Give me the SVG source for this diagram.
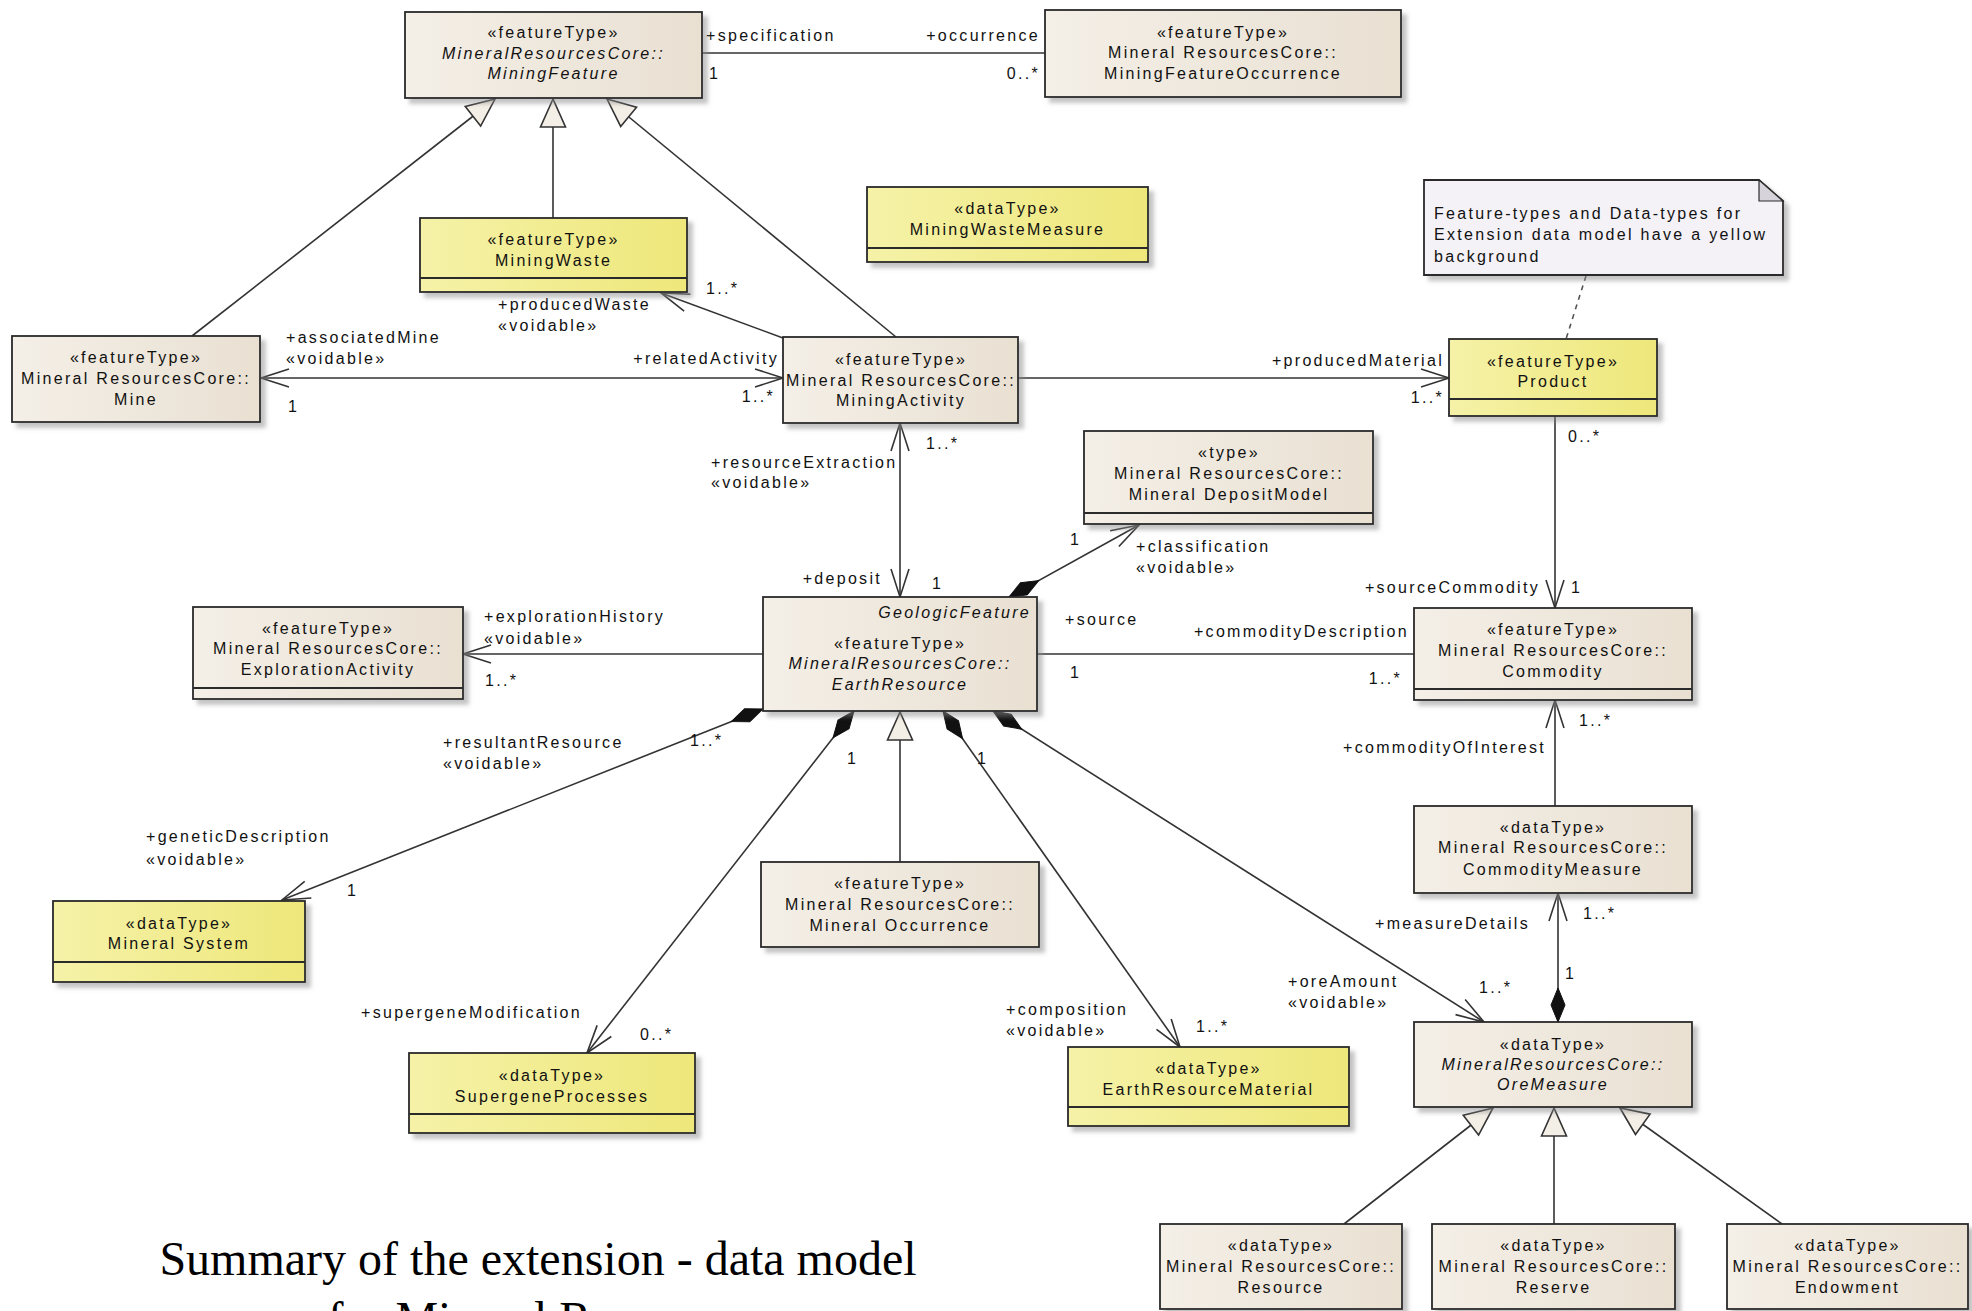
<svg xmlns="http://www.w3.org/2000/svg" width="1972" height="1311" viewBox="0 0 1972 1311">
<style>
.box{stroke:#2b2b2b;stroke-width:1.8}
.b{fill:url(#gB)}
.y{fill:url(#gY)}
.sep{stroke:#2b2b2b;stroke-width:1.8}
.t{font-family:"Liberation Sans",Arial,sans-serif;font-size:16px;letter-spacing:2.3px;fill:#111}
.c{text-anchor:middle}
.e{text-anchor:end}
.i{font-style:italic}
.ln{stroke:#333;stroke-width:1.6;fill:none}
.arr{marker-end:url(#arr)}
.arr2{marker-start:url(#arr);marker-end:url(#arr)}
.gen{marker-end:url(#gen)}
.dia{marker-start:url(#dia)}
.title{font-family:"Liberation Serif","Times New Roman",serif;font-size:48px;fill:#000;text-anchor:middle}
</style>
<defs>
<linearGradient id="gB" x1="0" y1="0" x2="1" y2="0"><stop offset="0" stop-color="#f4efe7"/><stop offset="1" stop-color="#e9e0d2"/></linearGradient>
<linearGradient id="gY" x1="0" y1="0" x2="1" y2="0"><stop offset="0" stop-color="#f5f2a8"/><stop offset="1" stop-color="#eee77a"/></linearGradient>
<filter id="sh" x="-5%" y="-5%" width="115%" height="125%"><feDropShadow dx="5" dy="5" stdDeviation="2" flood-color="#888" flood-opacity="0.5"/></filter>
<marker id="arr" viewBox="-32 -14 36 28" refX="0" refY="0" markerWidth="36" markerHeight="28" orient="auto-start-reverse" markerUnits="userSpaceOnUse"><path d="M-28,-9 L0,0 L-28,9" fill="none" stroke="#333" stroke-width="1.6"/></marker>
<marker id="gen" viewBox="-32 -16 36 32" refX="0" refY="0" markerWidth="36" markerHeight="32" orient="auto" markerUnits="userSpaceOnUse"><path d="M0,0 L-28,-12.5 L-28,12.5 Z" fill="#f4efe6" stroke="#333" stroke-width="1.6"/></marker>
<marker id="dia" viewBox="-3 -10 40 20" refX="0" refY="0" markerWidth="40" markerHeight="20" orient="auto" markerUnits="userSpaceOnUse"><path d="M0,0 L17,-7 L34,0 L17,7 Z" fill="#111" stroke="#111" stroke-width="1"/></marker>
</defs>
<rect width="1972" height="1311" fill="#fff"/>

<g id="connectors">
  <line class="ln" x1="702" y1="53" x2="1045" y2="53"/>
  <line class="ln gen" x1="192" y1="336" x2="495" y2="99"/>
  <line class="ln gen" x1="553" y1="218" x2="553" y2="99"/>
  <line class="ln gen" x1="896" y1="337" x2="607" y2="99"/>
  <line class="ln arr2" x1="261" y1="378" x2="783" y2="378"/>
  <line class="ln arr" x1="783" y1="338" x2="661" y2="293"/>
  <line class="ln arr" x1="1018" y1="378" x2="1449" y2="378"/>
  <line x1="1586" y1="276" x2="1566" y2="339" stroke="#555" stroke-width="1.6" stroke-dasharray="5,5"/>
  <line class="ln arr" x1="1555" y1="416" x2="1555" y2="608"/>
  <line class="ln arr" x1="1555" y1="806" x2="1555" y2="700"/>
  <line class="ln dia arr" x1="1558" y1="1022" x2="1558" y2="893"/>
  <line class="ln arr2" x1="900" y1="423" x2="900" y2="597"/>
  <line class="ln dia arr" x1="1009" y1="597" x2="1139" y2="525"/>
  <line class="ln" x1="1037" y1="654" x2="1414" y2="654"/>
  <line class="ln arr" x1="763" y1="654" x2="463" y2="654"/>
  <line class="ln dia arr" x1="763" y1="709" x2="282" y2="900"/>
  <line class="ln dia arr" x1="854" y1="711" x2="587" y2="1053"/>
  <line class="ln gen" x1="900" y1="862" x2="900" y2="712"/>
  <line class="ln dia arr" x1="943" y1="711" x2="1180" y2="1047"/>
  <line class="ln dia arr" x1="993" y1="711" x2="1484" y2="1022"/>
  <line class="ln gen" x1="1344" y1="1224" x2="1493" y2="1108"/>
  <line class="ln gen" x1="1554" y1="1224" x2="1554" y2="1108"/>
  <line class="ln gen" x1="1782" y1="1224" x2="1620" y2="1108"/>

  <text class="t" x="706" y="40.5">+specification</text>
  <text class="t" x="709" y="78.5">1</text>
  <text class="t e" x="1040" y="40.5">+occurrence</text>
  <text class="t e" x="1040" y="78.5">0..*</text>

  <text class="t" x="286" y="342.5">+associatedMine</text>
  <text class="t" x="286" y="363.5">«voidable»</text>
  <text class="t" x="288" y="412">1</text>
  <text class="t e" x="779" y="363.5">+relatedActivity</text>
  <text class="t e" x="775" y="401.5">1..*</text>

  <text class="t" x="498" y="309.5">+producedWaste</text>
  <text class="t" x="498" y="330.5">«voidable»</text>
  <text class="t" x="706" y="293.5">1..*</text>

  <text class="t e" x="1444" y="365.5">+producedMaterial</text>
  <text class="t e" x="1444" y="402.5">1..*</text>

  <text class="t" x="1568" y="441.5">0..*</text>
  <text class="t e" x="1540" y="592.5">+sourceCommodity</text>
  <text class="t" x="1571" y="592.5">1</text>

  <text class="t" x="1579" y="725.5">1..*</text>
  <text class="t e" x="1546" y="752.5">+commodityOfInterest</text>

  <text class="t" x="1583" y="918.5">1..*</text>
  <text class="t e" x="1530" y="928.5">+measureDetails</text>
  <text class="t" x="1565" y="978.5">1</text>

  <text class="t" x="926" y="448.5">1..*</text>
  <text class="t" x="711" y="467.5">+resourceExtraction</text>
  <text class="t" x="711" y="487.5">«voidable»</text>
  <text class="t e" x="882" y="583.5">+deposit</text>
  <text class="t" x="932" y="588.5">1</text>

  <text class="t" x="1070" y="544.5">1</text>
  <text class="t" x="1136" y="551.5">+classification</text>
  <text class="t" x="1136" y="572.5">«voidable»</text>

  <text class="t" x="1065" y="624.5">+source</text>
  <text class="t" x="1070" y="677.5">1</text>
  <text class="t e" x="1409" y="636.5">+commodityDescription</text>
  <text class="t e" x="1402" y="683.5">1..*</text>

  <text class="t" x="484" y="621.5">+explorationHistory</text>
  <text class="t" x="484" y="643.5">«voidable»</text>
  <text class="t" x="485" y="685.5">1..*</text>

  <text class="t" x="690" y="745.5">1..*</text>
  <text class="t" x="443" y="747.5">+resultantResource</text>
  <text class="t" x="443" y="768.5">«voidable»</text>
  <text class="t" x="146" y="841.5">+geneticDescription</text>
  <text class="t" x="146" y="864.5">«voidable»</text>
  <text class="t" x="347" y="895.5">1</text>

  <text class="t" x="847" y="763.5">1</text>
  <text class="t" x="361" y="1017.5">+supergeneModification</text>
  <text class="t" x="640" y="1039.5">0..*</text>

  <text class="t" x="977" y="763.5">1</text>
  <text class="t" x="1006" y="1014.5">+composition</text>
  <text class="t" x="1006" y="1035.5">«voidable»</text>
  <text class="t" x="1196" y="1031.5">1..*</text>

  <text class="t" x="1288" y="986.5">+oreAmount</text>
  <text class="t" x="1288" y="1007.5">«voidable»</text>
  <text class="t" x="1479" y="992.5">1..*</text>
</g>

<g id="n-miningfeature">
  <rect class="box b" x="405" y="12" width="297" height="86" filter="url(#sh)"/>
  <text class="t c" x="553.5" y="38">«featureType»</text>
  <text class="t c i" x="553.5" y="59">MineralResourcesCore::</text>
  <text class="t c i" x="553.5" y="79">MiningFeature</text>
</g>
<g id="n-miningfeatureoccurrence">
  <rect class="box b" x="1045" y="10" width="356" height="87" filter="url(#sh)"/>
  <text class="t c" x="1223" y="37.5">«featureType»</text>
  <text class="t c" x="1223" y="58">Mineral ResourcesCore::</text>
  <text class="t c" x="1223" y="78.5">MiningFeatureOccurrence</text>
</g>
<g id="n-miningwaste">
  <rect class="box y" x="420" y="218" width="267" height="74" filter="url(#sh)"/>
  <line class="sep" x1="420" y1="278" x2="687" y2="278"/>
  <text class="t c" x="553.5" y="244.5">«featureType»</text>
  <text class="t c" x="553.5" y="265.5">MiningWaste</text>
</g>
<g id="n-miningwastemeasure">
  <rect class="box y" x="867" y="187" width="281" height="75" filter="url(#sh)"/>
  <line class="sep" x1="867" y1="248" x2="1148" y2="248"/>
  <text class="t c" x="1007.5" y="213.5">«dataType»</text>
  <text class="t c" x="1007.5" y="234.5">MiningWasteMeasure</text>
</g>
<g id="n-mine">
  <rect class="box b" x="12" y="336" width="248" height="86" filter="url(#sh)"/>
  <text class="t c" x="136" y="362.5">«featureType»</text>
  <text class="t c" x="136" y="383.5">Mineral ResourcesCore::</text>
  <text class="t c" x="136" y="404.5">Mine</text>
</g>
<g id="n-miningactivity">
  <rect class="box b" x="783" y="337" width="235" height="86" filter="url(#sh)"/>
  <text class="t c" x="901" y="364.5">«featureType»</text>
  <text class="t c" x="901" y="385.5">Mineral ResourcesCore::</text>
  <text class="t c" x="901" y="405.5">MiningActivity</text>
</g>
<g id="n-note">
  <path d="M1424,180 L1759,180 L1783,201 L1783,275 L1424,275 Z" fill="#f4f2f7" stroke="#2b2b2b" stroke-width="1.8" filter="url(#sh)"/>
  <path d="M1759,180 L1759,201 L1783,201 Z" fill="#d6d3da" stroke="#2b2b2b" stroke-width="1.2"/>
  <text class="t" x="1434" y="219">Feature-types and Data-types for</text>
  <text class="t" x="1434" y="240">Extension data model have a yellow</text>
  <text class="t" x="1434" y="262">background</text>
</g>
<g id="n-product">
  <rect class="box y" x="1449" y="339" width="208" height="77" filter="url(#sh)"/>
  <line class="sep" x1="1449" y1="399" x2="1657" y2="399"/>
  <text class="t c" x="1553" y="366.5">«featureType»</text>
  <text class="t c" x="1553" y="386.5">Product</text>
</g>
<g id="n-mineraldepositmodel">
  <rect class="box b" x="1084" y="431" width="289" height="93" filter="url(#sh)"/>
  <line class="sep" x1="1084" y1="513" x2="1373" y2="513"/>
  <text class="t c" x="1229" y="457.5">«type»</text>
  <text class="t c" x="1229" y="478.5">Mineral ResourcesCore::</text>
  <text class="t c" x="1229" y="499.5">Mineral DepositModel</text>
</g>
<g id="n-earthresource">
  <rect class="box b" x="763" y="597" width="274" height="114" filter="url(#sh)"/>
  <text class="t e i" x="1031" y="617.5">GeologicFeature</text>
  <text class="t c" x="900" y="648.5">«featureType»</text>
  <text class="t c i" x="900" y="668.5">MineralResourcesCore::</text>
  <text class="t c i" x="900" y="689.5">EarthResource</text>
</g>
<g id="n-explorationactivity">
  <rect class="box b" x="193" y="607" width="270" height="92" filter="url(#sh)"/>
  <line class="sep" x1="193" y1="688" x2="463" y2="688"/>
  <text class="t c" x="328" y="633.5">«featureType»</text>
  <text class="t c" x="328" y="653.5">Mineral ResourcesCore::</text>
  <text class="t c" x="328" y="674.5">ExplorationActivity</text>
</g>
<g id="n-commodity">
  <rect class="box b" x="1414" y="608" width="278" height="92" filter="url(#sh)"/>
  <line class="sep" x1="1414" y1="689" x2="1692" y2="689"/>
  <text class="t c" x="1553" y="634.5">«featureType»</text>
  <text class="t c" x="1553" y="655.5">Mineral ResourcesCore::</text>
  <text class="t c" x="1553" y="676.5">Commodity</text>
</g>
<g id="n-commoditymeasure">
  <rect class="box b" x="1414" y="806" width="278" height="87" filter="url(#sh)"/>
  <text class="t c" x="1553" y="832.5">«dataType»</text>
  <text class="t c" x="1553" y="852.5">Mineral ResourcesCore::</text>
  <text class="t c" x="1553" y="874.5">CommodityMeasure</text>
</g>
<g id="n-mineralsystem">
  <rect class="box y" x="53" y="901" width="252" height="81" filter="url(#sh)"/>
  <line class="sep" x1="53" y1="962" x2="305" y2="962"/>
  <text class="t c" x="179" y="928.5">«dataType»</text>
  <text class="t c" x="179" y="948.5">Mineral System</text>
</g>
<g id="n-mineraloccurrence">
  <rect class="box b" x="761" y="862" width="278" height="85" filter="url(#sh)"/>
  <text class="t c" x="900" y="888.5">«featureType»</text>
  <text class="t c" x="900" y="909.5">Mineral ResourcesCore::</text>
  <text class="t c" x="900" y="930.5">Mineral Occurrence</text>
</g>
<g id="n-supergeneprocesses">
  <rect class="box y" x="409" y="1053" width="286" height="80" filter="url(#sh)"/>
  <line class="sep" x1="409" y1="1114" x2="695" y2="1114"/>
  <text class="t c" x="552" y="1080.5">«dataType»</text>
  <text class="t c" x="552" y="1101.5">SupergeneProcesses</text>
</g>
<g id="n-earthresourcematerial">
  <rect class="box y" x="1068" y="1047" width="281" height="79" filter="url(#sh)"/>
  <line class="sep" x1="1068" y1="1107" x2="1349" y2="1107"/>
  <text class="t c" x="1208.5" y="1073.5">«dataType»</text>
  <text class="t c" x="1208.5" y="1094.5">EarthResourceMaterial</text>
</g>
<g id="n-oremeasure">
  <rect class="box b" x="1414" y="1022" width="278" height="85" filter="url(#sh)"/>
  <text class="t c" x="1553" y="1049.5">«dataType»</text>
  <text class="t c i" x="1553" y="1069.5">MineralResourcesCore::</text>
  <text class="t c i" x="1553" y="1089.5">OreMeasure</text>
</g>
<g id="n-resource">
  <rect class="box b" x="1160" y="1224" width="242" height="85" filter="url(#sh)"/>
  <text class="t c" x="1281" y="1250.5">«dataType»</text>
  <text class="t c" x="1281" y="1271.5">Mineral ResourcesCore::</text>
  <text class="t c" x="1281" y="1292.5">Resource</text>
</g>
<g id="n-reserve">
  <rect class="box b" x="1432" y="1224" width="243" height="85" filter="url(#sh)"/>
  <text class="t c" x="1553.5" y="1250.5">«dataType»</text>
  <text class="t c" x="1553.5" y="1271.5">Mineral ResourcesCore::</text>
  <text class="t c" x="1553.5" y="1292.5">Reserve</text>
</g>
<g id="n-endowment">
  <rect class="box b" x="1727" y="1224" width="241" height="85" filter="url(#sh)"/>
  <text class="t c" x="1847.5" y="1250.5">«dataType»</text>
  <text class="t c" x="1847.5" y="1271.5">Mineral ResourcesCore::</text>
  <text class="t c" x="1847.5" y="1292.5">Endowment</text>
</g>

<g id="title">
  <text class="title" x="538" y="1275">Summary of the extension - data model</text>
  <text class="title" x="542" y="1335">for Mineral Resources</text>
</g>
</svg>
